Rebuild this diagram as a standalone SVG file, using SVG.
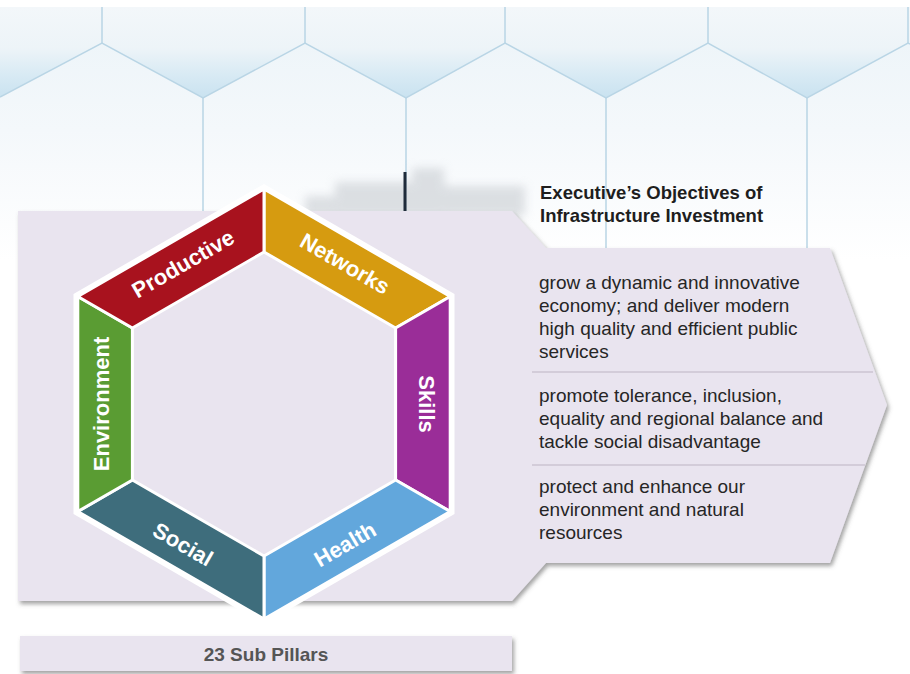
<svg xmlns="http://www.w3.org/2000/svg" width="910" height="674" viewBox="0 0 910 674">
<defs>
<linearGradient id="upper" x1="0" y1="7" x2="0" y2="98" gradientUnits="userSpaceOnUse">
<stop offset="0" stop-color="#f3f7fa"/>
<stop offset="0.45" stop-color="#edf4f8"/>
<stop offset="0.75" stop-color="#d8eaf4"/>
<stop offset="1" stop-color="#c9e2f0"/>
</linearGradient>
<linearGradient id="lower" x1="0" y1="43" x2="0" y2="260" gradientUnits="userSpaceOnUse">
<stop offset="0" stop-color="#eef5f9"/>
<stop offset="0.4" stop-color="#f4f8fb"/>
<stop offset="1" stop-color="#ffffff"/>
</linearGradient>
<filter id="shadow" x="-5%" y="-5%" width="112%" height="115%">
<feDropShadow dx="2" dy="3" stdDeviation="2" flood-color="#555" flood-opacity="0.55"/>
</filter>
<filter id="blur" x="-30%" y="-80%" width="160%" height="260%">
<feGaussianBlur stdDeviation="5"/>
</filter>
<style>
.hexline{fill:none;stroke:#b9d5e5;stroke-width:1.5}
.panel{fill:#e9e4ef}
.seg{stroke:#ffffff;stroke-width:3;stroke-linejoin:round}
.lbl{font-family:"Liberation Sans",Arial,sans-serif;font-size:22px;font-weight:bold;fill:#ffffff;text-anchor:middle}
.title{font-family:"Liberation Sans",Arial,sans-serif;font-size:18.5px;font-weight:bold;fill:#1e1e1e}
.body{font-family:"Liberation Sans",Arial,sans-serif;font-size:19px;fill:#262626}
.sub{font-family:"Liberation Sans",Arial,sans-serif;font-size:19px;font-weight:bold;fill:#555555;text-anchor:middle}
.div{stroke:#cbc4d2;stroke-width:1.5}
</style>
</defs>

<g id="background">
<rect x="0" y="0" width="910" height="674" fill="#ffffff"/>
<rect x="0" y="7" width="910" height="260" fill="url(#lower)"/>
<polygon points="0,7 910,7 910,44 908,43 807,98 708,43 606,98 505,43 406,98 305,43 203,98 102,43 0,97" fill="url(#upper)"/>
<polyline class="hexline" points="0,97 102,43 203,98 305,43 406,98 505,43 606,98 708,43 807,98 908,43 910,44"/>
<path class="hexline" d="M102,7V43 M305,7V43 M505,7V43 M708,7V43 M908,7V43 M203,98V250 M406,98V250 M606,98V250 M807,98V250"/>
<g filter="url(#blur)" fill="#c8ccd1" opacity="0.6">
<rect x="335" y="182" width="110" height="35"/>
<rect x="412" y="168" width="32" height="40"/>
<rect x="445" y="186" width="80" height="30"/>
<rect x="305" y="196" width="50" height="20"/>
</g>
<rect x="403.5" y="172" width="3" height="40" fill="#1f2b3a"/>
</g>

<g id="panel">
<path class="panel" filter="url(#shadow)" d="M18,211 L512,211 L546,248 L830,248 L887,405 L830,563 L546,563 L512,601 L18,601 Z"/>
</g>

<g id="title">
<text class="title" x="540" y="199">Executive’s Objectives of</text>
<text class="title" x="540" y="222">Infrastructure Investment</text>
</g>

<g id="connectors">
<line class="div" x1="532" y1="372" x2="873" y2="372"/>
<line class="div" x1="532" y1="465" x2="865" y2="465"/>
</g>

<g id="objective1">
<text class="body" x="539" y="289">grow a dynamic and innovative</text>
<text class="body" x="539" y="312">economy; and deliver modern</text>
<text class="body" x="539" y="335">high quality and efficient public</text>
<text class="body" x="539" y="358">services</text>
</g>
<g id="objective2">
<text class="body" x="539" y="402">promote tolerance, inclusion,</text>
<text class="body" x="539" y="425">equality and regional balance and</text>
<text class="body" x="539" y="448">tackle social disadvantage</text>
</g>
<g id="objective3">
<text class="body" x="539" y="493">protect and enhance our</text>
<text class="body" x="539" y="516">environment and natural</text>
<text class="body" x="539" y="539">resources</text>
</g>

<g id="hexagon">
<polygon points="264,184 454.5,294 454.5,514 264,624 73.5,514 73.5,294" fill="#ffffff"/>
<polygon points="264,252 395.6,328 395.6,480 264,556 132.4,480 132.4,328" fill="#e9e4ef"/>
<g id="networks">
<polygon class="seg" fill="#d69b10" points="264,189 450.2,296.5 395.6,328 264,252"/>
<text class="lbl" transform="translate(345,263.7) rotate(30)" dy="0.35em">Networks</text>
</g>
<g id="skills">
<polygon class="seg" fill="#9a2d98" points="450.2,296.5 450.2,511.5 395.6,480 395.6,328"/>
<text class="lbl" transform="translate(427,404) rotate(90)" dy="0.35em">Skills</text>
</g>
<g id="health">
<polygon class="seg" fill="#62a7dc" points="450.2,511.5 264,619 264,556 395.6,480"/>
<text class="lbl" transform="translate(345,544.3) rotate(-30)" dy="0.35em">Health</text>
</g>
<g id="social">
<polygon class="seg" fill="#3e6d7c" points="264,619 77.8,511.5 132.4,480 264,556"/>
<text class="lbl" transform="translate(183,544.3) rotate(30)" dy="0.35em">Social</text>
</g>
<g id="environment">
<polygon class="seg" fill="#5a9c33" points="77.8,511.5 77.8,296.5 132.4,328 132.4,480"/>
<text class="lbl" transform="translate(101,404) rotate(-90)" dy="0.35em">Environment</text>
</g>
<g id="productive">
<polygon class="seg" fill="#a8121e" points="77.8,296.5 264,189 264,252 132.4,328"/>
<text class="lbl" transform="translate(183,263.7) rotate(-30)" dy="0.35em">Productive</text>
</g>
</g>

<g id="subpillars">
<rect class="panel" filter="url(#shadow)" x="20" y="636" width="492" height="35"/>
<text class="sub" x="266" y="661">23 Sub Pillars</text>
</g>
</svg>
